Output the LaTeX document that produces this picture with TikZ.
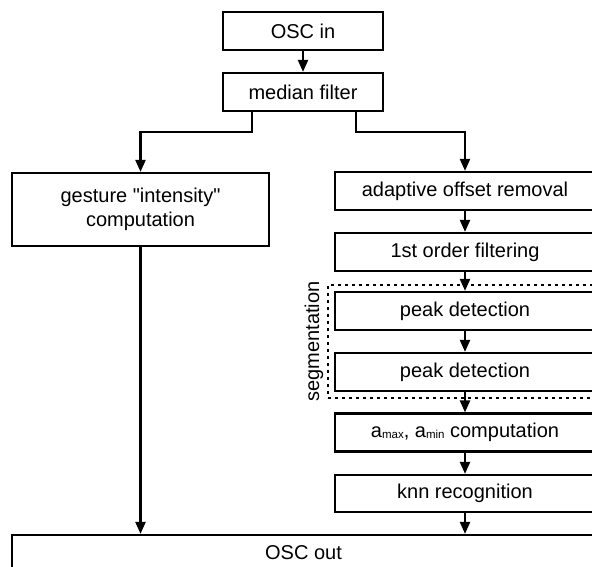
\documentclass[tikz,border=0pt]{standalone}
\usepackage{fontspec}
\setmainfont{Liberation Sans}
\newfontfamily\plainsans{Liberation Sans}
\usetikzlibrary{arrows.meta}
\tikzset{
  box/.style={draw, line width=2.2pt, minimum height=38pt, inner sep=0pt, align=center,
    font=\plainsans\fontsize{20}{23.5}\selectfont},
  rbox/.style={box, minimum width=260pt},
  arr/.style={line width=2.2pt, -{Triangle[width=10pt,length=12pt]}},
  seglabel/.style={rotate=90, inner sep=0pt, font=\plainsans\fontsize{20}{23}\selectfont},
}
\newcommand{\subsm}[1]{\raisebox{-0.5pt}{\fontsize{11.5}{12}\selectfont #1}}
\begin{document}
\begin{tikzpicture}[x=1pt,y=-1pt]
\useasboundingbox (0,0) rectangle (592,567);
\node[box, minimum width=160pt] (in) at (303,31) {OSC in};
\node[box, minimum width=160pt] (med) at (303,92) {median filter};
\node[box, minimum width=257pt, minimum height=73pt] (gest) at (140.5,209.5) {gesture "intensity"\\computation};
\node[rbox] (adapt) at (465,191) {adaptive offset removal};
\node[rbox] (filt) at (465,252) {1st order filtering};
\node[draw, line width=2.2pt, dash pattern=on 3pt off 4pt, minimum width=272pt, minimum height=113pt, inner sep=0pt] (seg) at (464,341.5) {};
\node[rbox] (peak1) at (465,311) {peak detection};
\node[rbox] (peak2) at (465,372) {peak detection};
\node[seglabel] (seglab) at (314,341.5) {segmentation};
\node[rbox] (amax) at (465,432.5) {a\subsm{max}, a\subsm{min} computation};
\node[rbox, minimum height=37pt] (knn) at (465,493.5) {knn recognition};
\node[box, minimum width=583pt, minimum height=36pt] (out) at (303.5,553) {OSC out};
\draw[arr] (in) -- (med);
\draw[arr] ([xshift=-51pt]med.south) -- ++(0,20) -| (gest.north);
\draw[arr] ([xshift=53pt]med.south) -- ++(0,20) -| (adapt.north);
\draw[arr] (adapt) -- (filt);
\draw[arr] (filt) -- (peak1);
\draw[arr] (peak1) -- (peak2);
\draw[arr] (peak2) -- (amax);
\draw[arr] (amax) -- (knn);
\draw[arr] (knn.south) -- (knn.south |- out.north);
\draw[arr] (gest.south) -- (gest.south |- out.north);
\end{tikzpicture}
\end{document}
